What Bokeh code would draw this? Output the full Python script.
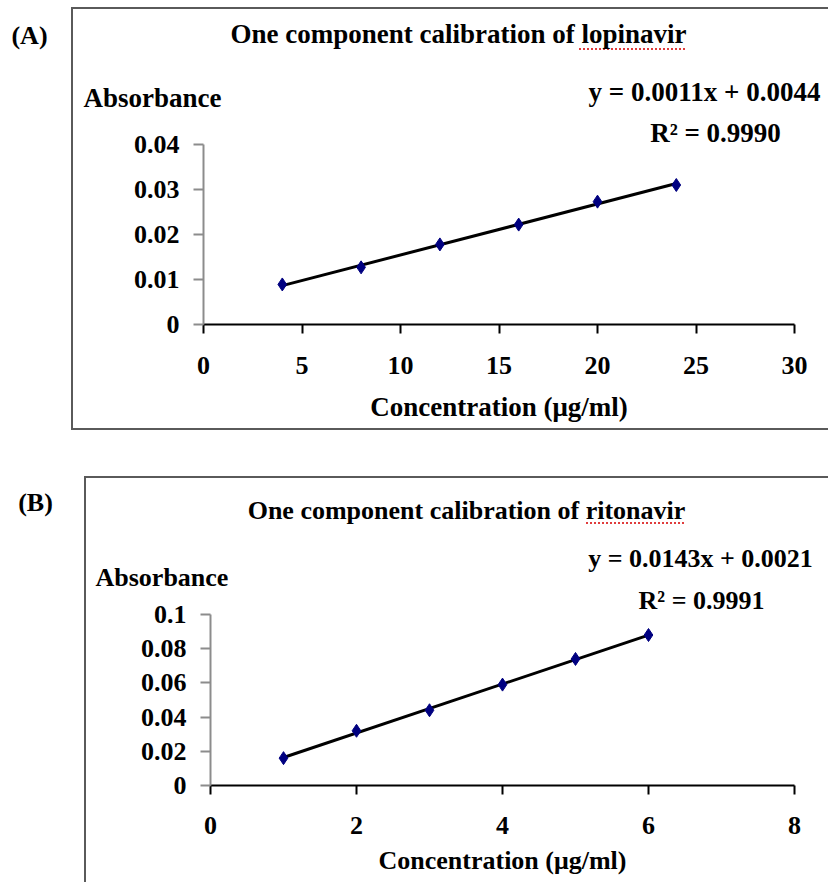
import numpy as np
from bokeh.plotting import figure
from bokeh.models import Range1d, FixedTicker, NumeralTickFormatter, Label
from bokeh.layouts import column
from bokeh.embed import file_html
from bokeh.resources import INLINE

# ---------------- data ----------------
# Panel A : lopinavir
conc_a = [4, 8, 12, 16, 20, 24]
abs_a = [0.0089, 0.0127, 0.0178, 0.0222, 0.0273, 0.0310]
xticks_a = [0, 5, 10, 15, 20, 25, 30]
yticks_a = [0, 0.01, 0.02, 0.03, 0.04]
tag_a = "(A)"
title_a = "One component calibration of lopinavir"
eq_a = "y = 0.0011x + 0.0044"
r2_a = "R² = 0.9990"

# Panel B : ritonavir
conc_b = [1, 2, 3, 4, 5, 6]
abs_b = [0.016, 0.032, 0.044, 0.059, 0.074, 0.088]
xticks_b = [0, 2, 4, 6, 8]
yticks_b = [0, 0.02, 0.04, 0.06, 0.08, 0.1]
tag_b = "(B)"
title_b = "One component calibration of ritonavir"
eq_b = "y = 0.0143x + 0.0021"
r2_b = "R² = 0.9991"

y_title = "Absorbance"
x_title = "Concentration (μg/ml)"

FONT = "Liberation Serif"
FS = "26px"
W = 828
BOX = "#5a5a5a"
SQUIGGLE = "#e03c3c"


def lbl(text, x, y, fs, align="left"):
    return Label(x=x, y=y, x_units="canvas", y_units="canvas", text=text,
                 text_font=FONT, text_font_style="bold", text_font_size=fs,
                 text_color="black", text_align=align,
                 text_baseline="middle")


def box_styles(left, top, bottom, height, sq):
    # thin panel frame (left, top and bottom edges) and the spell-check
    # underline, painted behind the transparent canvas
    g = f"linear-gradient({BOX},{BOX})"
    dots = (f"repeating-linear-gradient(90deg, {SQUIGGLE} 0px, {SQUIGGLE} 2px,"
            f" transparent 2px, transparent 4px)")
    imgs = [g, g, dots]
    sizes = [f"2px {bottom - top}px", f"{W - left}px 2px",
             f"{sq[1] - sq[0]}px 2px"]
    pos = [f"{left}px {top}px", f"{left}px {top}px", f"{sq[0]}px {sq[2]}px"]
    if bottom < height:
        imgs.append(g)
        sizes.append(f"{W - left}px 2px")
        pos.append(f"{left}px {bottom - 2}px")
    return {"background-image": ", ".join(imgs),
            "background-size": ", ".join(sizes),
            "background-position": ", ".join(pos),
            "background-repeat": "no-repeat"}


def make_panel(conc, absb, xt, yt, tag, title, eq, r2, g):
    p = figure(width=W, height=g["h"],
               x_range=Range1d(xt[0], xt[-1]), y_range=Range1d(yt[0], yt[-1]),
               output_backend="svg", toolbar_location=None,
               min_border_left=g["ml"], min_border_right=g["mr"],
               min_border_top=g["mt"], min_border_bottom=g["mb"],
               frame_align=False,
               styles=box_styles(g["bl"], g["bt"], g["bb"], g["h"], g["sq"]))
    p.xgrid.visible = False
    p.ygrid.visible = False
    p.outline_line_color = None
    p.background_fill_color = None
    p.border_fill_color = None

    p.xaxis.ticker = FixedTicker(ticks=xt, minor_ticks=[])
    p.yaxis.ticker = FixedTicker(ticks=yt, minor_ticks=[])
    p.xaxis.formatter = NumeralTickFormatter(format="0.[00]")
    p.yaxis.formatter = NumeralTickFormatter(format="0.[00]")

    for ax in (p.xaxis, p.yaxis):
        ax.major_label_text_font = FONT
        ax.major_label_text_font_style = "bold"
        ax.major_label_text_font_size = FS
        ax.major_label_text_color = "black"
        ax.major_tick_in = 0
        ax.minor_tick_in = 0
        ax.minor_tick_out = 0
        ax.axis_line_width = 2
        ax.major_tick_line_width = 2

    p.xaxis.axis_line_color = "black"
    p.xaxis.major_tick_line_color = "black"
    p.xaxis.major_tick_out = 9
    p.xaxis.major_label_standoff = g["xstand"]
    p.xaxis.axis_label = x_title
    p.xaxis.axis_label_text_font = FONT
    p.xaxis.axis_label_text_font_style = "bold"
    p.xaxis.axis_label_text_font_size = g["fs"]
    p.xaxis.axis_label_text_color = "black"
    p.xaxis.axis_label_standoff = g["xlstand"]

    p.yaxis.axis_line_color = "#8c8c8c"
    p.yaxis.major_tick_line_color = "#8c8c8c"
    p.yaxis.major_tick_out = 10
    p.yaxis.major_label_standoff = 14

    # linear trend line from least squares fit of the points
    fit = np.polyfit(conc, absb, 1)
    xs = [min(conc), max(conc)]
    ys = list(np.polyval(fit, xs))
    p.line(xs, ys, line_color="black", line_width=3)
    p.scatter(conc, absb, marker="diamond", size=13,
              fill_color="#000080", line_color="#000080")

    # texts live in side panels so that they are not clipped by the frame
    fs = g["fs"]
    p.add_layout(lbl(tag, g["tag"][0], g["tag"][1], FS, "center"), "left")
    p.add_layout(lbl(title, g["title"][0], g["title"][1], fs, "center"), "above")
    p.add_layout(lbl(y_title, g["ytl"][0], g["ytl"][1], fs, "left"), "above")
    p.add_layout(lbl(eq, g["eq"][0], g["eq"][1], fs, "center"), "above")
    p.add_layout(lbl(r2, g["r2"][0], g["r2"][1], fs, "center"), "above")
    return p


geom_a = dict(h=438, ml=203, mr=34, mt=144, mb=114, xstand=23, xlstand=15,
              fs="27px", bl=71, bt=7, bb=430, sq=(579, 685, 48),
              tag=(29, 35), title=(458, 33), ytl=(83, 97),
              eq=(704, 91), r2=(715, 132))
geom_b = dict(h=444, ml=210, mr=34, mt=176, mb=97, xstand=22, xlstand=9,
              fs="26px", bl=84, bt=38, bb=999, sq=(586, 686, 84),
              tag=(35, 64), title=(466, 72), ytl=(95, 139),
              eq=(700, 120), r2=(701, 162))

pa = make_panel(conc_a, abs_a, xticks_a, yticks_a, tag_a, title_a, eq_a, r2_a, geom_a)
pb = make_panel(conc_b, abs_b, xticks_b, yticks_b, tag_b, title_b, eq_b, r2_b, geom_b)

layout = column(pa, pb, spacing=0)
open("out.html", "w").write(file_html(layout, INLINE))
